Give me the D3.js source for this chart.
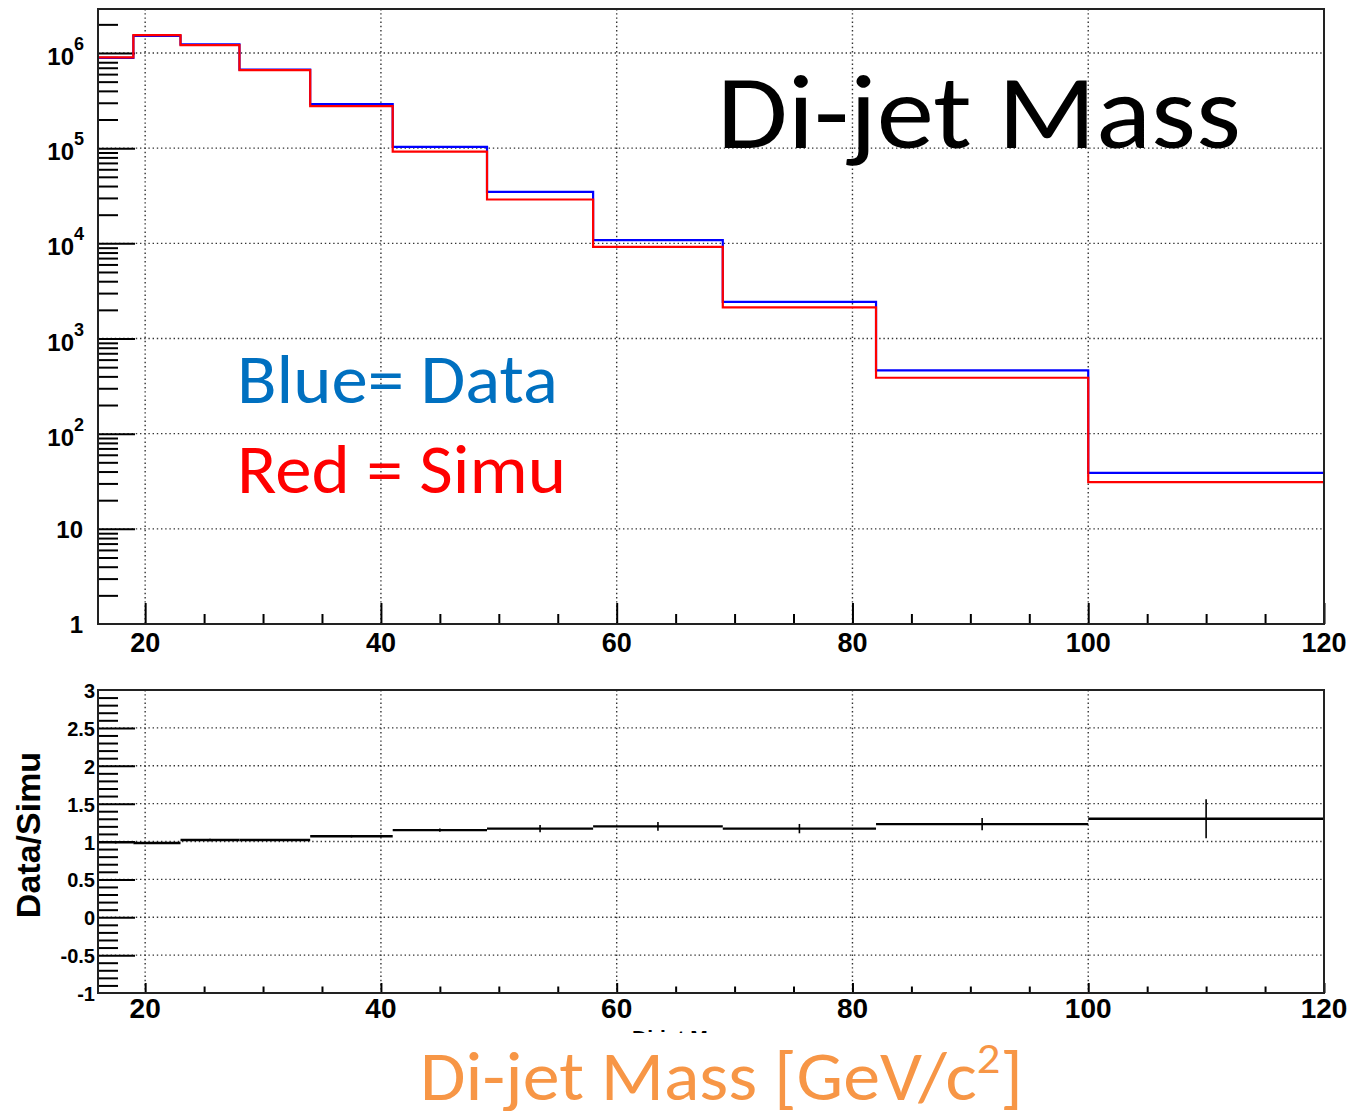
<!DOCTYPE html>
<html>
<head>
<meta charset="utf-8">
<script src="https://cdn.jsdelivr.net/npm/d3@7"></script>
<style>
body { margin: 0; background: #fff; }
.lbl { font-family: "Liberation Sans", Arial, sans-serif; font-weight: bold; fill: #000; }
.big { font-family: Carlito, Lato, "Open Sans", sans-serif; }
</style>
</head>
<body>
<svg id="chart" width="1350" height="1111"></svg>
<script>
// histogram bin edges (GeV/c^2)
const binEdges = [16, 19, 23, 28, 34, 41, 49, 58, 69, 82, 100, 120];
// counts per bin
const dataCounts = [8.9e5, 1.51e6, 1.23e6, 6.7e5, 2.9e5, 1.03e5, 3.47e4, 1.08e4, 2430, 462, 38.8];
const simuCounts = [9.0e5, 1.54e6, 1.21e6, 6.6e5, 2.76e5, 9.2e4, 2.89e4, 9.2e3, 2120, 387, 31];
// data / simu ratio and its error
const ratioVals = [0.99, 0.98, 1.02, 1.02, 1.07, 1.15, 1.17, 1.20, 1.17, 1.23, 1.30];
const ratioErrs = [0.01, 0.006, 0.01, 0.008, 0.01, 0.015, 0.04, 0.05, 0.055, 0.075, 0.25];

const xMajorTicks = [20, 40, 60, 80, 100, 120];
const xMinorTicks = [25, 30, 35, 45, 50, 55, 65, 70, 75, 85, 90, 95, 105, 110, 115];
const xGrid = [20, 40, 60, 80, 100];
const logDecades = [1, 10, 100, 1000, 10000, 100000, 1000000];
const logLabels = ["1", "10", "10^2", "10^3", "10^4", "10^5", "10^6"];
const ratioMajorTicks = [-1, -0.5, 0, 0.5, 1, 1.5, 2, 2.5, 3];
const ratioLabels = ["-1", "-0.5", "0", "0.5", "1", "1.5", "2", "2.5", "3"];
const ratioGrid = [-0.5, 0, 0.5, 1, 1.5, 2, 2.5];

const svg = d3.select("#chart");

const x = d3.scaleLinear().domain([16, 120]).range([98, 1324]);
const y = d3.scaleLog().domain([1, 2.9e6]).range([624, 9]);
const yr = d3.scaleLinear().domain([-1, 3]).range([993, 690]);

const upPad = { y0: 9, y1: 624 }, lowPad = { y0: 690, y1: 993 };

function dotted(g) {
  g.attr("stroke", "#333").attr("stroke-width", 1.4).attr("stroke-dasharray", "1.4,2.8");
}

// ---- grids
const gridTop = svg.append("g");
gridTop.selectAll(".vx").data(xGrid).enter().append("line")
  .attr("x1", d => x(d)).attr("x2", d => x(d)).attr("y1", upPad.y0).attr("y2", upPad.y1)
  .call(dotted);
gridTop.selectAll(".hy").data(logDecades.slice(1)).enter().append("line")
  .attr("x1", 98).attr("x2", 1324).attr("y1", d => y(d)).attr("y2", d => y(d))
  .call(dotted);

const gridBot = svg.append("g");
gridBot.selectAll(".vx").data(xGrid).enter().append("line")
  .attr("x1", d => x(d)).attr("x2", d => x(d)).attr("y1", lowPad.y0).attr("y2", lowPad.y1)
  .call(dotted);
gridBot.selectAll(".hy").data(ratioGrid).enter().append("line")
  .attr("x1", 98).attr("x2", 1324).attr("y1", d => yr(d)).attr("y2", d => yr(d))
  .call(dotted);

// ---- axes ticks (inward, ROOT style)
function styleAxis(g) {
  g.select(".domain").remove();
  g.selectAll(".tick line").attr("stroke", "#000").attr("stroke-width", 2);
  g.selectAll(".tick text").remove();
}

svg.append("g").attr("transform", "translate(0,624)")
  .call(d3.axisBottom(x).tickValues(xMajorTicks).tickSize(-21).tickFormat(""))
  .call(styleAxis);
svg.append("g").attr("transform", "translate(0,624)")
  .call(d3.axisBottom(x).tickValues(xMinorTicks).tickSize(-10).tickFormat(""))
  .call(styleAxis);
svg.append("g").attr("transform", "translate(0,993)")
  .call(d3.axisBottom(x).tickValues(xMajorTicks).tickSize(-10).tickFormat(""))
  .call(styleAxis);
svg.append("g").attr("transform", "translate(0,993)")
  .call(d3.axisBottom(x).tickValues(xMinorTicks).tickSize(-6.5).tickFormat(""))
  .call(styleAxis);

const logMinor = y.ticks().filter(v => logDecades.indexOf(v) < 0 && v > 1);
svg.append("g").attr("transform", "translate(98,0)")
  .call(d3.axisLeft(y).tickValues(logDecades.slice(1)).tickSize(-37).tickFormat(""))
  .call(styleAxis);
svg.append("g").attr("transform", "translate(98,0)")
  .call(d3.axisLeft(y).tickValues(logMinor).tickSize(-20).tickFormat(""))
  .call(styleAxis);

const ratioMinor = d3.range(-10, 31).map(v => v / 10).filter(v => ratioMajorTicks.indexOf(v) < 0);
svg.append("g").attr("transform", "translate(98,0)")
  .call(d3.axisLeft(yr).tickValues(ratioMajorTicks.slice(1, -1)).tickSize(-37).tickFormat(""))
  .call(styleAxis);
svg.append("g").attr("transform", "translate(98,0)")
  .call(d3.axisLeft(yr).tickValues(ratioMinor).tickSize(-20).tickFormat(""))
  .call(styleAxis);

// ---- histograms
const clip = svg.append("clipPath").attr("id", "clipTop");
clip.append("rect").attr("x", 98).attr("y", upPad.y0).attr("width", 1226).attr("height", upPad.y1 - upPad.y0);

function stepPoints(vals) {
  const pts = vals.map((v, i) => [binEdges[i], v]);
  pts.push([binEdges[binEdges.length - 1], vals[vals.length - 1]]);
  return pts;
}
const stepLine = d3.line().x(d => x(d[0])).y(d => y(d[1])).curve(d3.curveStepAfter);

const hist = svg.append("g").attr("clip-path", "url(#clipTop)");
hist.append("path").datum(stepPoints(dataCounts))
  .attr("d", stepLine).attr("fill", "none").attr("stroke", "#0000ff").attr("stroke-width", 2.2);
hist.append("path").datum(stepPoints(simuCounts))
  .attr("d", stepLine).attr("fill", "none").attr("stroke", "#ff0000").attr("stroke-width", 2.2);

// ---- ratio points
const ratio = svg.append("g");
ratio.selectAll(".hbar").data(ratioVals).enter().append("line")
  .attr("x1", (d, i) => x(binEdges[i])).attr("x2", (d, i) => x(binEdges[i + 1]))
  .attr("y1", d => yr(d)).attr("y2", d => yr(d))
  .attr("stroke", "#000").attr("stroke-width", 2.4);
ratio.selectAll(".ebar").data(ratioVals).enter().append("line")
  .attr("x1", (d, i) => x((binEdges[i] + binEdges[i + 1]) / 2))
  .attr("x2", (d, i) => x((binEdges[i] + binEdges[i + 1]) / 2))
  .attr("y1", (d, i) => yr(d - ratioErrs[i]) + 0.5).attr("y2", (d, i) => yr(d + ratioErrs[i]) - 0.5)
  .attr("stroke", "#000").attr("stroke-width", 1.6);

// ---- frames
svg.append("rect").attr("x", 98).attr("y", upPad.y0).attr("width", 1226).attr("height", upPad.y1 - upPad.y0)
  .attr("fill", "none").attr("stroke", "#222").attr("stroke-width", 2);
svg.append("rect").attr("x", 98).attr("y", lowPad.y0).attr("width", 1226).attr("height", lowPad.y1 - lowPad.y0)
  .attr("fill", "none").attr("stroke", "#222").attr("stroke-width", 2);

// ---- tick labels
svg.selectAll(".xlTop").data(xMajorTicks).enter().append("text").attr("class", "lbl")
  .attr("x", d => x(d)).attr("y", 652).attr("text-anchor", "middle").attr("font-size", 27)
  .text(d => d);
svg.selectAll(".xlBot").data(xMajorTicks).enter().append("text").attr("class", "lbl")
  .attr("x", d => x(d)).attr("y", 1018).attr("text-anchor", "middle").attr("font-size", 28)
  .text(d => d);

logDecades.forEach((v, i) => {
  const parts = logLabels[i].split("^");
  const t = svg.append("text").attr("class", "lbl").attr("text-anchor", "end").attr("font-size", 24);
  if (parts.length === 1) {
    t.attr("x", 83).attr("y", y(v) + 9).text(parts[0]);
  } else {
    t.attr("x", 84).attr("y", y(v) + 12);
    t.append("tspan").text(parts[0]);
    t.append("tspan").attr("dy", -15).attr("font-size", 18).text(parts[1]);
  }
});

svg.selectAll(".ylBot").data(ratioMajorTicks).enter().append("text").attr("class", "lbl")
  .attr("x", 95).attr("y", d => yr(d) + 8).attr("text-anchor", "end").attr("font-size", 20)
  .text((d, i) => ratioLabels[i]);

svg.append("text").attr("class", "lbl")
  .attr("transform", "translate(40,835) rotate(-90)").attr("text-anchor", "middle")
  .attr("font-size", 34).text("Data/Simu");

// ROOT axis title, mostly hidden behind the slide label
svg.append("clipPath").attr("id", "clipTitle")
  .append("rect").attr("x", 560).attr("y", 1020).attr("width", 300).attr("height", 13);
svg.append("text").attr("class", "lbl").attr("clip-path", "url(#clipTitle)")
  .attr("x", 632).attr("y", 1045).attr("font-size", 21).attr("fill", "#222").text("Di-jet Mass");

// ---- slide annotations, squeezed horizontally to the measured widths
function slideText(x0, yBase, size, color, width) {
  const g = svg.append("g");
  const t = g.append("text").attr("class", "big").attr("x", 0).attr("y", 0)
    .attr("font-size", size).attr("fill", color);
  return { g: g, t: t, fit: function () {
    const w = t.node().getBBox().width;
    g.attr("transform", "translate(" + x0 + "," + yBase + ") scale(" + (width / w) + ",1)");
  } };
}

const title = slideText(717, 148, 105, "#000", 524);
title.t.text("Di-jet Mass");
title.fit();

const blueNote = slideText(237, 403, 70, "#0070c0", 321);
blueNote.t.text("Blue= Data");
blueNote.fit();

const redNote = slideText(237, 493, 70, "#ff0000", 329);
redNote.t.text("Red = Simu");
redNote.fit();

const xTitle = slideText(420, 1100, 70, "#f79646", 603);
xTitle.t.append("tspan").text("Di-jet Mass [GeV/c");
xTitle.t.append("tspan").attr("dy", -27).attr("font-size", 44).text("2");
xTitle.t.append("tspan").attr("dy", 27).text("]");
xTitle.fit();
</script>
</body>
</html>
